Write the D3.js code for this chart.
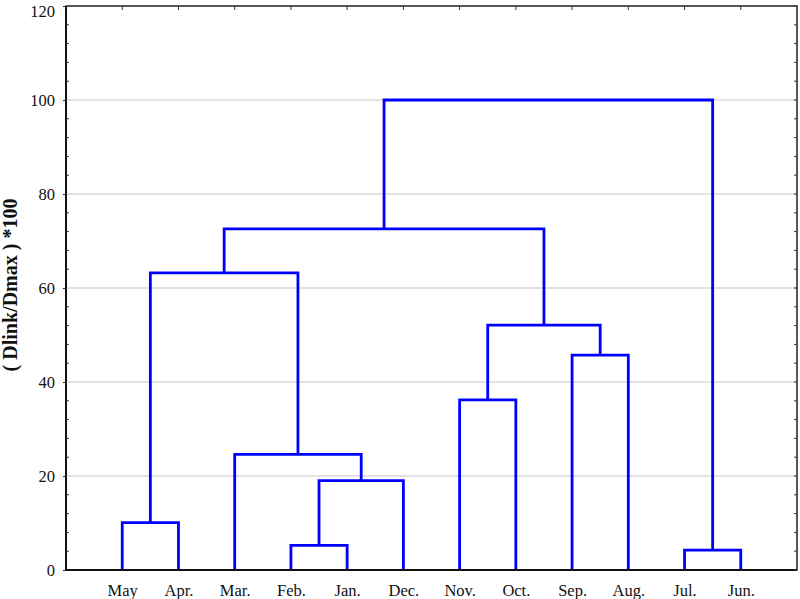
<!DOCTYPE html>
<html>
<head>
<meta charset="utf-8">
<script src="https://cdn.jsdelivr.net/npm/d3@7"></script>
<style>
  html, body { margin: 0; padding: 0; background: #fff; }
  svg { display: block; }
</style>
</head>
<body>
<script>
// ---- Data ----
const leafLabels = ["May", "Apr.", "Mar.", "Feb.", "Jan.", "Dec.", "Nov.", "Oct.", "Sep.", "Aug.", "Jul.", "Jun."];
// Merge steps: node ids 0..11 are leaves, merge i creates node 12+i
const mergeA = [0, 3, 13, 2, 12, 6, 8, 17, 16, 10, 20];
const mergeB = [1, 4, 5, 14, 15, 7, 9, 18, 19, 11, 21];
const mergeHeight = [10.1, 5.25, 19.0, 24.6, 63.2, 36.2, 45.7, 52.1, 72.6, 4.25, 100];
const yTicks = [0, 20, 40, 60, 80, 100, 120];
const yTitle = "( Dlink/Dmax ) *100";

// ---- Layout ----
const W = 800, H = 599;
const L = 66, R = 797, T = 6, B = 570;

const svg = d3.select("body").append("svg").attr("width", W).attr("height", H);

const x = d3.scalePoint().domain(leafLabels).range([L, R]).padding(1);
const y = d3.scaleLinear().domain([0, 120]).range([B, T]);

// grid lines
svg.append("g").selectAll("line").data(yTicks.filter(d => d > 0 && d < 120)).join("line")
  .attr("x1", L).attr("x2", R).attr("y1", d => y(d)).attr("y2", d => y(d))
  .attr("stroke", "#dadada").attr("stroke-width", 1.5);

// compute node positions
const nodeX = leafLabels.map(l => x(l));
const nodeH = leafLabels.map(() => 0);
const links = [];
mergeA.forEach((a, i) => {
  const b = mergeB[i], h = mergeHeight[i];
  links.push({ xa: nodeX[a], ha: nodeH[a], xb: nodeX[b], hb: nodeH[b], h });
  nodeX.push((nodeX[a] + nodeX[b]) / 2);
  nodeH.push(h);
});

svg.append("g").selectAll("path").data(links).join("path")
  .attr("d", d => `M${d.xa},${y(d.ha)}V${y(d.h)}H${d.xb}V${y(d.hb)}`)
  .attr("fill", "none").attr("stroke", "#0000ff").attr("stroke-width", 2.8)
  .attr("stroke-linejoin", "miter");

// frame
const frame = svg.append("g");
frame.append("rect").attr("x", L).attr("y", T).attr("width", R - L).attr("height", B - T)
  .attr("fill", "none").attr("stroke", "#222").attr("stroke-width", 1.5);
frame.append("line").attr("x1", L).attr("x2", R).attr("y1", B).attr("y2", B)
  .attr("stroke", "#111").attr("stroke-width", 2);
frame.append("line").attr("x1", L).attr("x2", L).attr("y1", T).attr("y2", B)
  .attr("stroke", "#111").attr("stroke-width", 2);

// left axis
const yAxis = d3.axisLeft(y).tickValues(yTicks).tickSize(3).tickPadding(8).tickFormat(d3.format("d"));
const gy = svg.append("g").attr("transform", `translate(${L},0)`).call(yAxis);
gy.select(".domain").remove();
gy.selectAll("text").attr("font-family", "'Liberation Serif', 'Times New Roman', serif")
  .attr("font-size", 16.5).attr("fill", "#111");
gy.selectAll("line").attr("stroke", "#222");
// keep top label inside the picture
gy.selectAll(".tick").filter(d => d === 120).select("text").attr("dy", "0.64em");

const minor = d3.range(0, 121, 4).filter(d => d % 20 !== 0);
svg.append("g").selectAll("line").data(minor).join("line")
  .attr("x1", L).attr("x2", L + 3).attr("y1", d => y(d)).attr("y2", d => y(d))
  .attr("stroke", "#333").attr("stroke-width", 1);
svg.append("g").selectAll("line").data(d3.range(0, 121, 4)).join("line")
  .attr("x1", R).attr("x2", R - 3).attr("y1", d => y(d)).attr("y2", d => y(d))
  .attr("stroke", "#333").attr("stroke-width", 1);
// top ticks
svg.append("g").selectAll("line").data(leafLabels).join("line")
  .attr("x1", d => x(d)).attr("x2", d => x(d)).attr("y1", T).attr("y2", T + 4)
  .attr("stroke", "#333").attr("stroke-width", 1);

// bottom axis labels
const xAxis = d3.axisBottom(x).tickSize(0).tickPadding(14);
const gx = svg.append("g").attr("transform", `translate(0,${B})`).call(xAxis);
gx.select(".domain").remove();
gx.selectAll("text").attr("font-family", "'Liberation Serif', 'Times New Roman', serif")
  .attr("font-size", 16.5).attr("fill", "#111");

// y title
svg.append("text")
  .attr("transform", `translate(17,${(T + B) / 2 - 3}) rotate(-90)`)
  .attr("text-anchor", "middle")
  .attr("font-family", "'Liberation Serif', 'Times New Roman', serif")
  .attr("font-weight", "bold").attr("font-size", 20).attr("fill", "#111")
  .text(yTitle);
</script>
</body>
</html>
